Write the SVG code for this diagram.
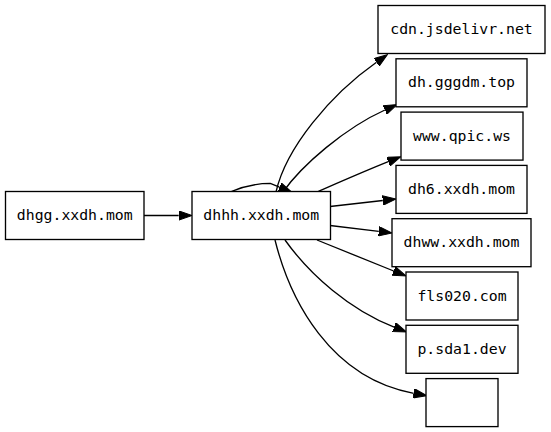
<svg xmlns="http://www.w3.org/2000/svg" width="551" height="432" viewBox="0 0 551 432">
<style>
.n rect{fill:#fff;stroke:#000;stroke-width:1.33}
.n text{font-family:"DejaVu Sans Mono","Liberation Mono",monospace;font-size:14.8px;text-anchor:middle;fill:#000}
#edges path{fill:none;stroke:#000;stroke-width:1.33;marker-end:url(#ah)}
</style>
<defs>
<marker id="ah" markerUnits="userSpaceOnUse" markerWidth="14" markerHeight="10" viewBox="0 -5 14 10" refX="0" refY="0" orient="auto">
<path d="M0,-4.67 L13.3,0 L0,4.67 z" fill="#000" stroke="#000" stroke-width="1"/>
</marker>
</defs>
<rect width="551" height="432" fill="#fff"/>
<g id="edges">
<path d="M144,215.5 L178.7,215.5"/>
<path d="M230,192 C243,186.5 258,183.4 270.3,183.4 L279.5,187.2"/>
<path d="M276,192 C286,148 330,95 376.5,62.3"/>
<path d="M283,192 C302,165 345,128 384.9,110"/>
<path d="M317,192 C340,182 365,171 388.3,161.7"/>
<path d="M330,206.5 L382.8,200.5"/>
<path d="M330,225.5 L378.8,231.4"/>
<path d="M317,240 L393.7,271"/>
<path d="M285,240 C310,275 350,310 394.1,327.1"/>
<path d="M275,240 C290,300 330,378 413.7,393.3"/>
</g>
<g id="dhgg" class="n"><rect x="5.5" y="191.5" width="138.5" height="48"/><text x="74.75" y="220">dhgg.xxdh.mom</text></g>
<g id="dhhh" class="n"><rect x="192" y="191.5" width="138.5" height="48"/><text x="261.25" y="220">dhhh.xxdh.mom</text></g>
<g id="cdn" class="n"><rect x="378" y="5.5" width="167" height="48"/><text x="461.5" y="34">cdn.jsdelivr.net</text></g>
<g id="gggdm" class="n"><rect x="396" y="58.8" width="131" height="48"/><text x="461.5" y="87.3">dh.gggdm.top</text></g>
<g id="qpic" class="n"><rect x="401" y="112.1" width="122" height="48"/><text x="462" y="140.6">www.qpic.ws</text></g>
<g id="dh6" class="n"><rect x="396" y="165.4" width="131" height="48"/><text x="461.5" y="193.9">dh6.xxdh.mom</text></g>
<g id="dhww" class="n"><rect x="392" y="218.7" width="139" height="48"/><text x="461.5" y="247.2">dhww.xxdh.mom</text></g>
<g id="fls020" class="n"><rect x="406" y="272" width="112" height="48"/><text x="462" y="300.5">fls020.com</text></g>
<g id="sda1" class="n"><rect x="406" y="325.3" width="112" height="48"/><text x="462" y="353.8">p.sda1.dev</text></g>
<g id="empty" class="n"><rect x="426" y="378.6" width="72" height="48"/></g>
</svg>
